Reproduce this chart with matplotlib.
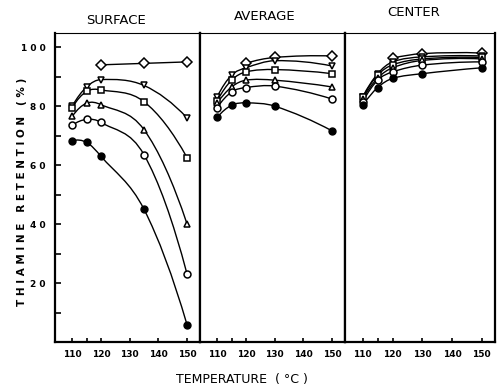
import numpy as np
import matplotlib
matplotlib.use("Agg")
import matplotlib.pyplot as plt
from matplotlib.path import Path
from matplotlib.patches import PathPatch

# temperatures (deg C) at which retention was measured
temps_surface = [110, 115, 120, 135, 150]
temps_inner = [110, 115, 120, 130, 150]

panel_titles = ["SURFACE", "AVERAGE", "CENTER"]

# thiamine retention (%) per panel, one list per marker series
surface = {
    "D": ([120, 135, 150], [94, 94.5, 95]),
    "v": (temps_surface, [80, 86.5, 89, 87, 76]),
    "s": (temps_surface, [79.5, 85, 85.5, 81.5, 62.5]),
    "^": (temps_surface, [76.5, 81, 80.5, 72, 40]),
    "o": (temps_surface, [73.5, 75.5, 74.5, 63.5, 23]),
    "filled": (temps_surface, [68.2, 67.7, 63, 45, 5.8]),
}
average = {
    "D": ([120, 130, 150], [94.5, 96.5, 97]),
    "v": (temps_inner, [83.2, 90.5, 93, 95.4, 93.6]),
    "s": (temps_inner, [81.8, 88.8, 91.6, 92.4, 91]),
    "^": (temps_inner, [81, 86.5, 88.8, 88.8, 86.5]),
    "o": (temps_inner, [79.5, 84.8, 86.3, 86.8, 82.4]),
    "filled": (temps_inner, [76.2, 80.3, 81.1, 80, 71.6]),
}
center = {
    "D": ([120, 130, 150], [96.2, 97.8, 98]),
    "v": (temps_inner, [83.2, 91, 95, 96.7, 97]),
    "s": (temps_inner, [83, 90.5, 94, 96, 96.5]),
    "^": (temps_inner, [82.5, 89.5, 93, 95.5, 96]),
    "o": (temps_inner, [81.5, 88.8, 91.6, 93.9, 95]),
    "filled": (temps_inner, [80.3, 86.3, 89.4, 91, 93]),
}

x_ticks = [110, 115, 120, 130, 140, 150]
x_labels = ["110", "", "120", "130", "140", "150"]
y_major = [20, 40, 60, 80, 100]
y_minor = [10, 30, 50, 70, 90]


def smooth_path(xs, ys):
    # cubic hermite curve through the measured points (drawing only)
    x = np.asarray(xs, float)
    y = np.asarray(ys, float)
    n = len(x)
    d = np.diff(y) / np.diff(x)
    m = np.zeros(n)
    for i in range(1, n - 1):
        m[i] = (y[i + 1] - y[i - 1]) / (x[i + 1] - x[i - 1])
    if n > 2:
        m[0] = 2 * d[0] - m[1]
        m[-1] = 2 * d[-1] - m[-2]
    else:
        m[:] = d[0]
    verts = [(x[0], y[0])]
    codes = [Path.MOVETO]
    for i in range(n - 1):
        h = x[i + 1] - x[i]
        verts += [(x[i] + h / 3, y[i] + m[i] * h / 3),
                  (x[i + 1] - h / 3, y[i + 1] - m[i + 1] * h / 3),
                  (x[i + 1], y[i + 1])]
        codes += [Path.CURVE4] * 3
    return Path(verts, codes)


fig = plt.figure(figsize=(4.97, 3.87), dpi=100)
W, H = 497.0, 387.0
edges = [55, 200, 345, 495]
top, bottom = 33, 342
title_x = [116, 265, 414]
title_y = [20, 17, 13]

for k, data in enumerate([surface, average, center]):
    ax = fig.add_axes([edges[k] / W, 1 - bottom / H,
                       (edges[k + 1] - edges[k]) / W, (bottom - top) / H])
    ax.set_xlim(104, 154.5)
    ax.set_ylim(0, 104.8)
    for name, (xs, ys) in data.items():
        ax.add_patch(PathPatch(smooth_path(xs, ys), fill=False,
                               edgecolor="black", lw=1.0, zorder=2))
        if name == "filled":
            ax.plot(xs, ys, "o", ms=5, mfc="black", mec="black", zorder=3)
        else:
            ms = 5.5 if name == "D" else 5
            ax.plot(xs, ys, name, ms=ms, mfc="white", mec="black",
                    mew=1.1, zorder=3)

    ax.set_xticks(x_ticks)
    ax.set_xticklabels(x_labels, fontsize=6.5, fontweight="bold")
    ax.tick_params(axis="x", direction="in", length=3, width=1.2, pad=6)
    if k == 0:
        ax.set_yticks(y_major)
        ax.set_yticks(y_minor, minor=True)
        ax.set_yticklabels(["2 0", "4 0", "6 0", "8 0", "1 0 0"],
                           fontsize=6.5, fontweight="bold")
        ax.tick_params(axis="y", which="both", direction="in",
                       length=4, width=1.2, pad=7)
    else:
        ax.set_yticks([])
    for side in ["left", "bottom", "right"]:
        ax.spines[side].set_linewidth(1.6)
    ax.spines["top"].set_linewidth(0.8)

    fig.text(title_x[k] / W, 1 - title_y[k] / H, panel_titles[k],
             ha="center", va="center", fontsize=9.5)

fig.text(22 / W, 1 - 192 / H, "T H I A M I N E   R E T E N T I O N   ( % )",
         rotation=90, ha="center", va="center", fontsize=7.5,
         fontweight="bold")
fig.text(242 / W, 1 - 380 / H, "TEMPERATURE  ( °C )", ha="center",
         va="center", fontsize=9)

fig.savefig("out.png", dpi=100, facecolor="white")
